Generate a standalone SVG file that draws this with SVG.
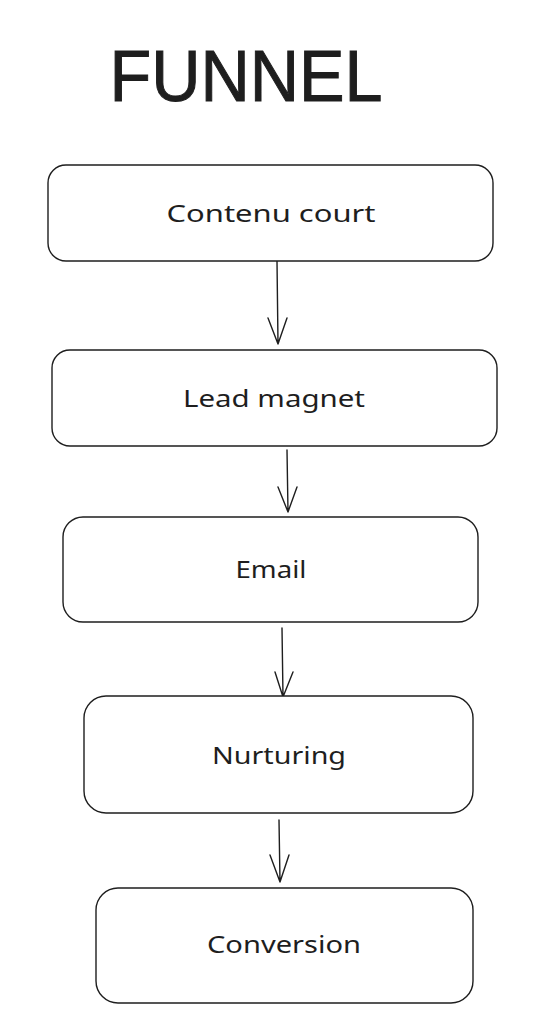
<svg xmlns="http://www.w3.org/2000/svg" width="547" height="1024" viewBox="0 0 547 1024">
<style>
.box{fill:#ffffff;stroke:#1e1e1e;stroke-width:1.4}
.lbl{font-family:"Noto Sans","Liberation Sans",sans-serif;font-size:24px;fill:#1e1e1e;text-anchor:middle}
.edge{fill:none;stroke:#1e1e1e;stroke-width:1.4;stroke-linecap:round;stroke-linejoin:round}
</style>
<rect width="547" height="1024" fill="#ffffff"/>
<g id="title">
<text x="246" y="101" font-family="Liberation Sans, sans-serif" font-size="72" font-weight="400" fill="#1e1e1e" stroke="#1e1e1e" stroke-width="1" text-anchor="middle" textLength="273" lengthAdjust="spacingAndGlyphs">FUNNEL</text>
</g>
<g id="connectors">
<path class="edge" d="M277 261 L278 344 M268 318 L278 344 L287 318"/>
<path class="edge" d="M287 450 L288 512 M278 487 L288 512 L297 487"/>
<path class="edge" d="M282 628 L283 697 M275 672 L283 697 L293 672"/>
<path class="edge" d="M279 820 L280 882 M270 855 L280 882 L289 855"/>
</g>
<g id="node-contenu">
<rect class="box" x="48" y="165" width="445" height="96" rx="18"/>
<text class="lbl" x="271" y="222" textLength="209" lengthAdjust="spacingAndGlyphs">Contenu court</text>
</g>
<g id="node-lead">
<rect class="box" x="52" y="350" width="445" height="96" rx="18"/>
<text class="lbl" x="274" y="407" textLength="182" lengthAdjust="spacingAndGlyphs">Lead magnet</text>
</g>
<g id="node-email">
<rect class="box" x="63" y="517" width="415" height="105" rx="20"/>
<text class="lbl" x="271" y="578" textLength="71" lengthAdjust="spacingAndGlyphs">Email</text>
</g>
<g id="node-nurturing">
<rect class="box" x="84" y="696" width="389" height="117" rx="22"/>
<text class="lbl" x="279" y="764" textLength="134" lengthAdjust="spacingAndGlyphs">Nurturing</text>
</g>
<g id="node-conversion">
<rect class="box" x="96" y="888" width="377" height="115" rx="22"/>
<text class="lbl" x="284" y="953" textLength="154" lengthAdjust="spacingAndGlyphs">Conversion</text>
</g>
</svg>
